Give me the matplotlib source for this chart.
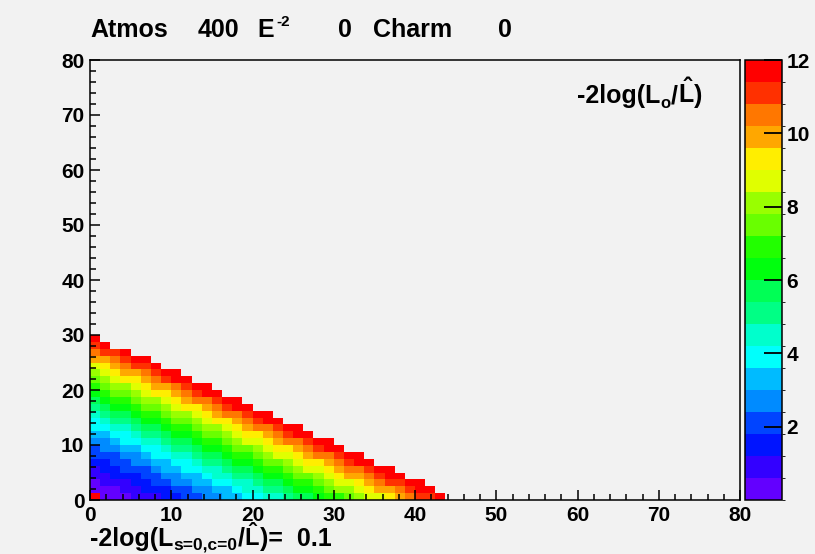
import colorsys
import numpy as np
import matplotlib
matplotlib.use("Agg")
import matplotlib.pyplot as plt
from matplotlib.colors import ListedColormap, BoundaryNorm
from matplotlib.ticker import MultipleLocator

# 64 x 64 bins over 0..80 on both axes
x_edges = np.linspace(0, 80, 65)
y_edges = np.linspace(0, 80, 65)

# colour level of every filled bin, row by row from y=0 upwards
# (0-9 then a-j = levels 10-19, one level = 0.6); empty bins are not drawn
rows = [
    "j000111223344556677899abbcdeefghiij",
    "00011222334455677889aabcddefgghijj",
    "0111223344556677899abbcdeefghiijj",
    "11222334455677889aabccdefgghijj",
    "1223334556677899abbcdeefghhijj",
    "22334455667889aabccdeffghijj",
    "3334456677899abbcdeefghhijj",
    "34455667889aabccdeffghijj",
    "4456677899abbcdeefghhijj",
    "55667889aabccdeffghijj",
    "6677899abbcddefghhijj",
    "67889aabccdeffghijj",
    "7899abbcddefghhijj",
    "89aabccdeffghijj",
    "9abbcddefghhijj",
    "abccdeffghijj",
    "bcddefgghijj",
    "cdeffghijj",
    "defgghijj",
    "efghiij",
    "gghijj",
    "hiij",
    "ij",
    "j",
]
level_step = 0.6
zmax = 12
cbar_ticks = [2, 4, 6, 8, 10, 12]

title_parts = [("Atmos", 90), ("400", 198), ("E", 257), ("0", 338), ("Charm", 373), ("0", 498)]

z = np.full((64, 64), np.nan)
for r, s in enumerate(rows):
    for c, ch in enumerate(s):
        z[r, c] = (int(ch, 36) + 0.5) * level_step

# ROOT rainbow palette, 20 contours
hues = [263.2, 252, 235.2, 224, 207.2, 196, 179.2, 168, 151.2, 140,
        123.2, 112, 95.2, 84, 67.2, 56, 39.2, 28, 11.2, 0]
cols = [colorsys.hls_to_rgb(h / 360, 0.5, 1.0) for h in hues]
cmap = ListedColormap(cols)
norm = BoundaryNorm(np.arange(0, zmax + 0.01, level_step), cmap.N)

plt.rcParams['font.family'] = 'Liberation Sans'
plt.rcParams['font.weight'] = 'bold'
plt.rcParams['mathtext.fontset'] = 'custom'
plt.rcParams['mathtext.rm'] = 'Liberation Sans:bold'
plt.rcParams['mathtext.it'] = 'Liberation Sans:bold'
plt.rcParams['mathtext.bf'] = 'Liberation Sans:bold'
plt.rcParams['mathtext.default'] = 'rm'

W, H = 815, 554
bg = '#f2f2f2'
fig = plt.figure(figsize=(W / 100, H / 100), dpi=100, facecolor=bg)
ax = fig.add_axes([90 / W, 1 - 500 / H, 650 / W, 440 / H], facecolor=bg)

mesh = ax.pcolormesh(x_edges, y_edges, z, cmap=cmap, norm=norm)
ax.set_xlim(0, 80)
ax.set_ylim(0, 80)
ax.xaxis.set_major_locator(MultipleLocator(10))
ax.xaxis.set_minor_locator(MultipleLocator(2))
ax.yaxis.set_major_locator(MultipleLocator(10))
ax.yaxis.set_minor_locator(MultipleLocator(2))
ax.tick_params(which='both', direction='in', top=False, right=False, width=1.1, labelsize=15)
ax.tick_params(which='major', length=7)
ax.tick_params(which='minor', length=4)
ax.tick_params(axis='y', pad=4)
ax.tick_params(axis='x', pad=4)
for sp in ax.spines.values():
    sp.set_linewidth(1.1)

cax = fig.add_axes([745 / W, 1 - 500 / H, 37 / W, 440 / H])
cb = fig.colorbar(mesh, cax=cax, ticks=cbar_ticks)
cb.outline.set_linewidth(1.1)
cax.tick_params(direction='in', length=13, width=1.3, labelsize=15, pad=3)

renderer = fig.canvas.get_renderer()


def put_line(parts, x, y):
    # parts: (text, fontsize, shift down in px); placed one after another
    for txt, size, dy in parts:
        t = fig.text(x / W, 1 - (y + dy) / H, txt, fontsize=size,
                     fontweight='bold', va='baseline')
        x += t.get_window_extent(renderer).width


for txt, px in title_parts:
    fig.text(px / W, 1 - 37 / H, txt, fontsize=18, fontweight='bold', va='baseline')
fig.text(276 / W, 1 - 26 / H, "-2", fontsize=11, fontweight='bold', va='baseline')

put_line([("-2log(L", 18, 0), ("o", 12, 5), ("/", 18, 0),
          (r"$\hat{L}$", 18, 0), (")", 18, 0)], 577, 103)
put_line([("-2log(L", 18, 0), ("s=0,c=0", 12.5, 3), ("/", 18, 0),
          (r"$\hat{L}$", 17, 0), (")=  0.1", 18, 0)], 90, 546)

fig.savefig('out.png', dpi=100, facecolor=bg)
